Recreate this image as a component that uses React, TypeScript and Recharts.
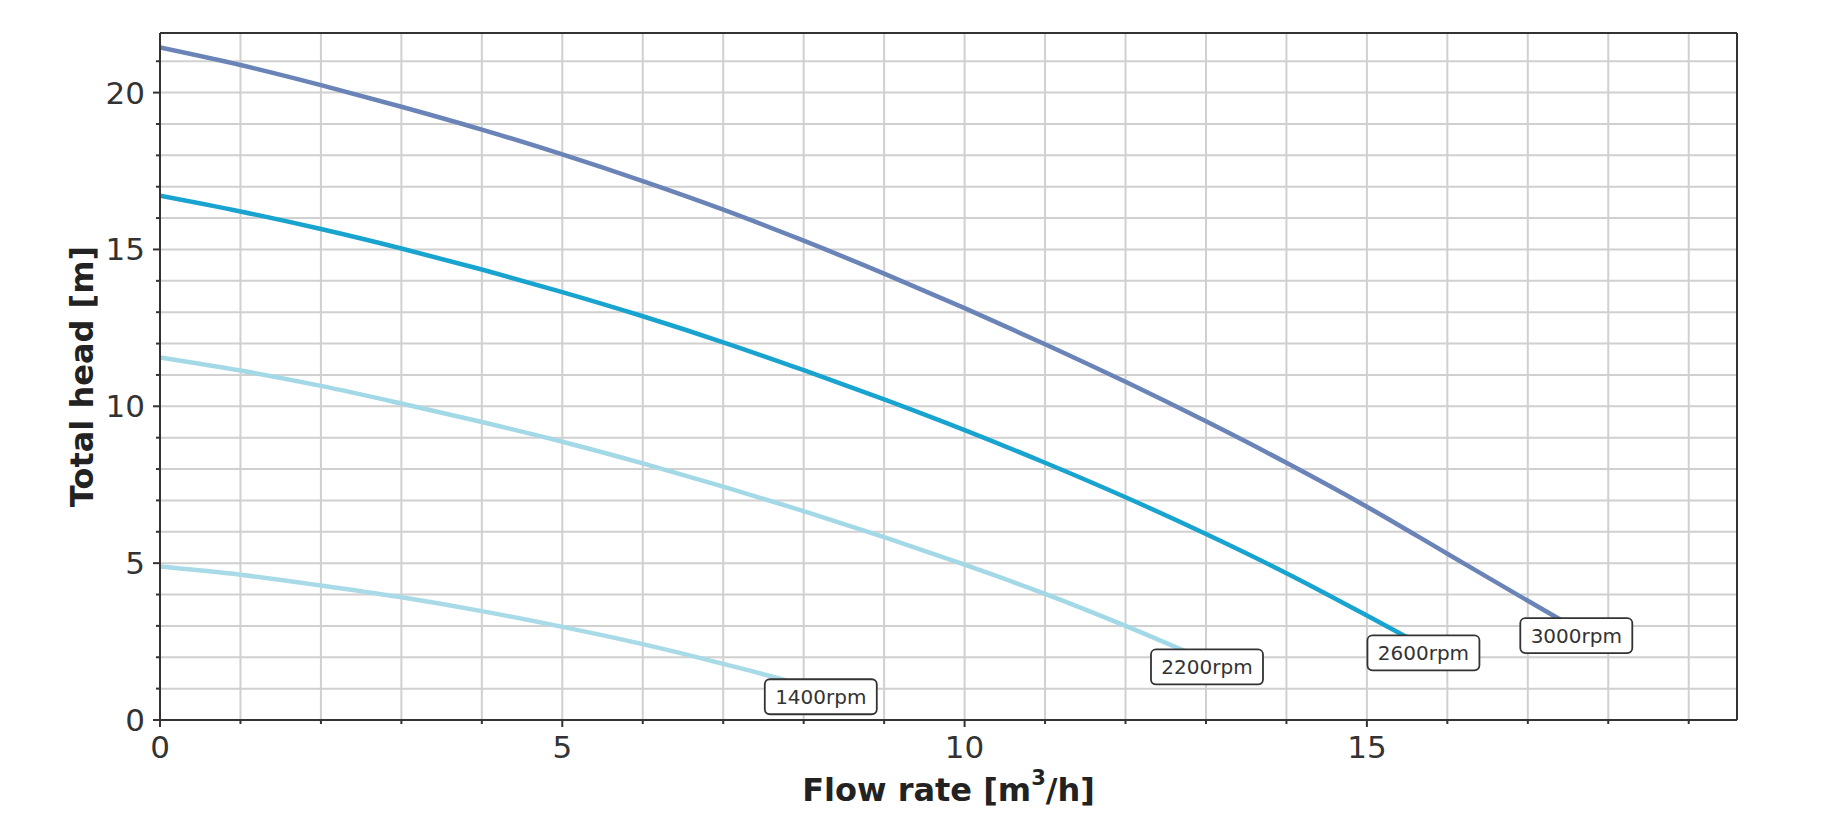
import React from 'react';
import { LineChart, Line, XAxis, YAxis, CartesianGrid, ReferenceLine, LabelList } from 'recharts';

// ---- data ----
const q1400 = [0, 1, 2, 3, 4, 5, 6, 7, 8, 8.25];
const h1400 = [4.89, 4.63, 4.29, 3.91, 3.47, 2.97, 2.42, 1.79, 1.1, 0.9];

const q2200 = [0, 1, 2, 3, 4, 5, 6, 7, 8, 9, 10, 11, 12, 13.05];
const h2200 = [11.56, 11.14, 10.65, 10.09, 9.5, 8.87, 8.18, 7.44, 6.66, 5.83, 4.95, 4.02, 3.0, 1.85];

const q2600 = [0, 1, 2, 3, 4, 5, 6, 7, 8, 9, 10, 11, 12, 13, 14, 15, 15.74];
const h2600 = [16.71, 16.21, 15.65, 15.03, 14.36, 13.64, 12.87, 12.04, 11.15, 10.22, 9.24, 8.2, 7.1, 5.93, 4.68, 3.33, 2.3];

const q3000 = [0, 1, 2, 3, 4, 5, 6, 7, 8, 9, 10, 11, 12, 13, 14, 15, 16, 17, 17.64];
const h3000 = [21.44, 20.88, 20.24, 19.55, 18.82, 18.03, 17.18, 16.27, 15.28, 14.23, 13.13, 11.98, 10.78, 9.52, 8.2, 6.8, 5.3, 3.8, 2.85];

const seriesNames = ['1400rpm', '2200rpm', '2600rpm', '3000rpm'];
const seriesColors = ['#a8dae7', '#a3d8e6', '#19a4cf', '#6a84b8'];

const xTicks = [0, 1, 2, 3, 4, 5, 6, 7, 8, 9, 10, 11, 12, 13, 14, 15, 16, 17, 18, 19];
const yTicks = [0, 1, 2, 3, 4, 5, 6, 7, 8, 9, 10, 11, 12, 13, 14, 15, 16, 17, 18, 19, 20, 21];
const xTickLabels = [0, 5, 10, 15];
const yTickLabels = [0, 5, 10, 15, 20];
const xMax = 19.6;
const yMax = 21.9;

const xTitle = 'Flow rate [m';
const xTitleSup = '3';
const xTitleEnd = '/h]';
const yTitle = 'Total head [m]';

// ---- build ----
const build = (q: number[], h: number[]) => q.map((v, i) => ({ q: v, h: h[i] }));
const seriesData = [build(q1400, h1400), build(q2200, h2200), build(q2600, h2600), build(q3000, h3000)];

const FONT = 'DejaVu Sans';
const AXIS = '#333333';
const TEXT = '#333333';
const TICK_FS = 31;
const TITLE_FS = 32;

const YTick = (props: any) => {
  const { x, y, payload } = props;
  const v = payload.value;
  const major = yTickLabels.includes(v);
  return (
    <g>
      <line x1={x - (major ? 7 : 4)} x2={x} y1={y} y2={y} stroke={AXIS} strokeWidth={2} />
      {major && (
        <text x={x - 15} y={y} textAnchor="end" dominantBaseline="central" fontSize={TICK_FS} fill={TEXT} fontFamily={FONT}>
          {v}
        </text>
      )}
    </g>
  );
};

const XTick = (props: any) => {
  const { x, y, payload } = props;
  const v = payload.value;
  const major = xTickLabels.includes(v);
  return (
    <g>
      <line x1={x} x2={x} y1={y} y2={y + (major ? 7 : 4)} stroke={AXIS} strokeWidth={2} />
      {major && (
        <text x={x} y={y + 27} textAnchor="middle" dominantBaseline="central" fontSize={TICK_FS} fill={TEXT} fontFamily={FONT}>
          {v}
        </text>
      )}
    </g>
  );
};

const makeTag = (name: string, last: number) => (p: any) => {
  if (p.index !== last) return null;
  const cx = p.x - 3;
  const cy = p.y + 5;
  const w = 112;
  const hgt = 35;
  return (
    <g>
      <rect x={cx - w / 2} y={cy - hgt / 2} width={w} height={hgt} rx={5} ry={5} fill="#ffffff" stroke={AXIS} strokeWidth={1.8} />
      <text x={cx} y={cy} textAnchor="middle" dominantBaseline="central" fontSize={20} fill={TEXT} fontFamily={FONT}>
        {name}
      </text>
    </g>
  );
};

const YTitle = (props: any) => {
  const vb = props.viewBox || {};
  const cx = (vb.x || 0) + 74;
  const cy = (vb.y || 0) + (vb.height || 0) / 2;
  return (
    <text x={cx} y={cy} transform={`rotate(-90 ${cx} ${cy})`} textAnchor="middle" dominantBaseline="central" fontSize={TITLE_FS} fontWeight="bold" fill="#222" fontFamily={FONT}>
      {yTitle}
    </text>
  );
};

const XTitle = (props: any) => {
  const vb = props.viewBox || {};
  const cx = (vb.x || 0) + (vb.width || 0) / 2;
  const cy = (vb.y || 0) + 70;
  return (
    <text x={cx} y={cy} textAnchor="middle" dominantBaseline="central" fontSize={TITLE_FS} fontWeight="bold" fill="#222" fontFamily={FONT}>
      {xTitle}
      <tspan dy={-12} fontSize={21}>{xTitleSup}</tspan>
      <tspan dy={12}>{xTitleEnd}</tspan>
    </text>
  );
};

export default function App() {
  return (
    <div style={{ width: 1830, height: 818, fontFamily: FONT }}>
      <LineChart width={1830} height={818} margin={{ top: 25, right: 101, bottom: 0, left: 0 }}>
        <CartesianGrid stroke="#d0d0d0" strokeWidth={2} />
        <XAxis
          type="number"
          dataKey="q"
          domain={[0, xMax]}
          ticks={xTicks}
          interval={0}
          allowDataOverflow
          height={106}
          tickSize={0}
          tickMargin={0}
          tickLine={false}
          axisLine={{ stroke: AXIS, strokeWidth: 2 }}
          tick={<XTick />}
          label={{ content: <XTitle /> }}
        />
        <YAxis
          type="number"
          dataKey="h"
          domain={[0, yMax]}
          ticks={yTicks}
          interval={0}
          allowDataOverflow
          width={152}
          tickSize={0}
          tickMargin={0}
          tickLine={false}
          axisLine={{ stroke: AXIS, strokeWidth: 2 }}
          tick={<YTick />}
          label={{ content: <YTitle /> }}
        />
        <ReferenceLine y={yMax} stroke={AXIS} strokeWidth={2} />
        <ReferenceLine x={xMax} stroke={AXIS} strokeWidth={2} />
        {seriesData.map((d, i) => (
          <Line
            key={seriesNames[i]}
            data={d}
            dataKey="h"
            type="monotone"
            stroke={seriesColors[i]}
            strokeWidth={4.5}
            dot={false}
            activeDot={false}
            isAnimationActive={false}
          >
            <LabelList dataKey="h" content={makeTag(seriesNames[i], d.length - 1)} />
          </Line>
        ))}
      </LineChart>
    </div>
  );
}
